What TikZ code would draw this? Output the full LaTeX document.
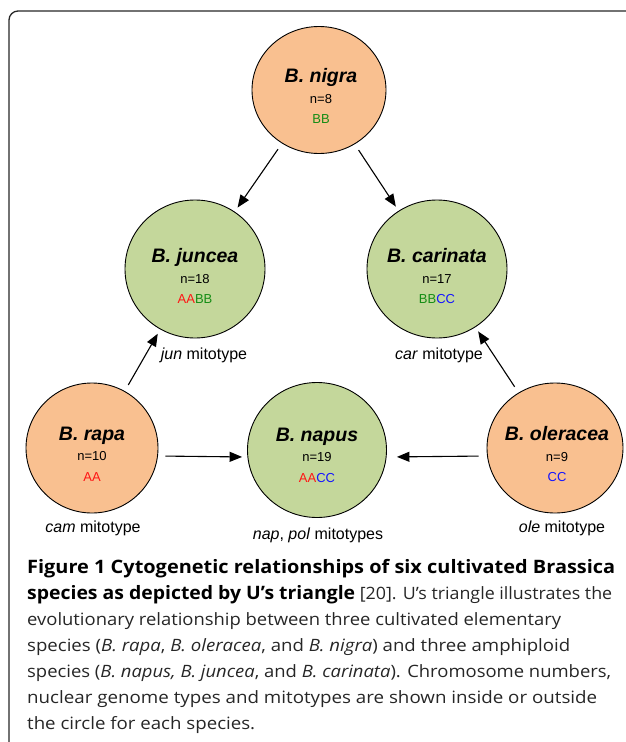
\documentclass[tikz,border=0pt]{standalone}
\usepackage{fontspec}
\usepackage{graphicx}
\setmainfont{Open Sans}
\newfontfamily\diagfont{Liberation Sans}
\usetikzlibrary{shapes.geometric,calc,arrows.meta}

\definecolor{parentfill}{RGB}{249,192,144}
\definecolor{hybridfill}{RGB}{196,215,155}
\definecolor{genA}{RGB}{255,20,20}
\definecolor{genB}{RGB}{20,140,20}
\definecolor{genC}{RGB}{20,20,255}

\tikzset{
  species/.style={ellipse,draw=black,line width=0.9pt,inner sep=0pt},
  parent/.style={species,fill=parentfill},
  hybrid/.style={species,fill=hybridfill},
  spinfo/.style={align=center,inner sep=0pt,font=\diagfont\fontsize{13}{20.5}\selectfont},
  mito/.style={inner sep=0pt,font=\diagfont\fontsize{16}{19}\selectfont},
  cross/.style={-{Triangle[length=12.5pt,width=10pt]},line width=1.1pt,shorten <=7pt,shorten >=5pt},
  caption/.style={align=left,inner sep=0pt,text=black!85,font=\fontsize{17}{26.1}\selectfont}
}
\newcommand{\spname}[1]{{\fontsize{19.5}{20}\selectfont\bfseries\itshape #1}}
\newcommand{\capbf}[1]{{\fontsize{18.5}{26.1}\selectfont\bfseries\color{black} #1}}
\newcommand{\capline}[2]{\resizebox{#1pt}{\height}{#2}}

\begin{document}
\begin{tikzpicture}[x=1pt,y=-1pt]
  \useasboundingbox (0,0) rectangle (625,742);
  \draw[line width=1.3pt,draw=black!85,rounded corners=9pt] (9,760) -- (9,11) -- (640,11);

  \node[parent,minimum width=134pt,minimum height=127pt] (nigra) at (319,90) {};
  \node[hybrid,minimum width=140pt,minimum height=138pt] (juncea) at (195,269) {};
  \node[hybrid,minimum width=140pt,minimum height=138pt] (carinata) at (437,269) {};
  \node[parent,minimum width=132pt,minimum height=130pt] (rapa) at (92,448) {};
  \node[hybrid,minimum width=139pt,minimum height=135pt] (napus) at (317,450) {};
  \node[parent,minimum width=136pt,minimum height=130pt] (oleracea) at (555,448) {};

  \node[spinfo] (nigratxt) at ($(nigra)+(2,6)$) {\spname{B. nigra}\\ n=8\\ \textcolor{genB}{BB}};
  \node[spinfo] (junceatxt) at ($(juncea)+(0,7)$) {\spname{B. juncea}\\ n=18\\ \textcolor{genA}{AA}\textcolor{genB}{BB}};
  \node[spinfo] (carinatatxt) at ($(carinata)+(0,7)$) {\spname{B. carinata}\\ n=17\\ \textcolor{genB}{BB}\textcolor{genC}{CC}};
  \node[spinfo] (rapatxt) at ($(rapa)+(0,6)$) {\spname{B. rapa}\\ n=10\\ \textcolor{genA}{AA}};
  \node[spinfo] (napustxt) at ($(napus)+(0,5)$) {\spname{B. napus}\\ n=19\\ \textcolor{genA}{AA}\textcolor{genC}{CC}};
  \node[spinfo] (oleraceatxt) at ($(oleracea)+(2,6)$) {\spname{B. oleracea}\\ n=9\\ \textcolor{genC}{CC}};

  \node[mito] (junmito) at (204,355) {\textit{jun} mitotype};
  \node[mito] (carmito) at (439,355) {\textit{car} mitotype};
  \node[mito] (cammito) at (93,528) {\textit{cam} mitotype};
  \node[mito] (napmito) at (318,535) {\textit{nap}, \textit{pol} mitotypes};
  \node[mito] (olemito) at (562,528) {\textit{ole} mitotype};

  \draw[cross] (nigra) -- (juncea);
  \draw[cross] (nigra) -- (carinata);
  \draw[cross] (rapa) -- (juncea);
  \draw[cross] (oleracea) -- (carinata);
  \draw[cross] ($(rapa.east)+(0,8)$) -- ($(napus.west)+(0,7)$);
  \draw[cross,shorten <=8pt,shorten >=10pt] ($(oleracea.west)+(0,8)$) -- ($(napus.east)+(0,7)$);

  \node[caption,anchor=north west] (caption) at (27,559) {%
    \capline{588}{\capbf{Figure 1 Cytogenetic relationships of six cultivated Brassica}}\\
    \capline{585}{\capbf{species as depicted by U’s triangle} [20]. U’s triangle illustrates the}\\
    \capline{534}{evolutionary relationship between three cultivated elementary}\\
    \capline{543}{species (\textit{B. rapa}, \textit{B. oleracea}, and \textit{B. nigra}) and three amphiploid}\\
    \capline{584}{species (\textit{B. napus, B. juncea}, and \textit{B. carinata}). Chromosome numbers,}\\
    \capline{570}{nuclear genome types and mitotypes are shown inside or outside}\\
    \capline{228}{the circle for each species.}};
\end{tikzpicture}
\end{document}
